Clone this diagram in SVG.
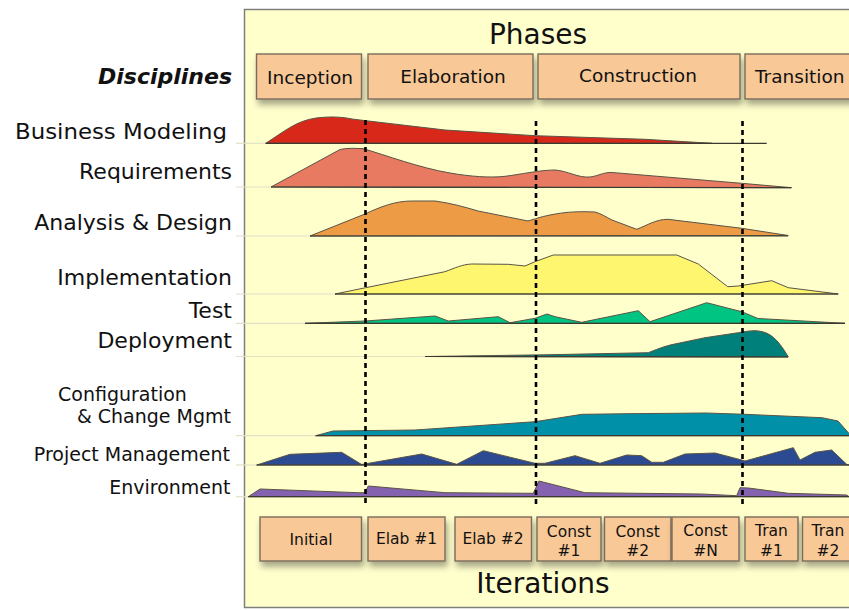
<svg xmlns="http://www.w3.org/2000/svg" width="849" height="610" viewBox="0 0 849 610">
<style>
  text { font-family: "DejaVu Sans", Verdana, sans-serif; fill: #111; }
  .disc { font-size: 22px; text-anchor: end; }
  .disc2 { font-size: 19px; text-anchor: end; }
  .title { font-size: 28px; text-anchor: middle; }
  .phl { font-size: 18.5px; text-anchor: middle; }
  .itl { font-size: 15.5px; text-anchor: middle; }
  .box { fill: #F8C896; stroke: #7A6C5C; stroke-width: 1.4; filter: url(#sh); }
  .hump { stroke: #5A5446; stroke-width: 1; stroke-linejoin: round; }
  .base { stroke: #3A3A30; stroke-width: 1.2; }
  .faint { stroke: #E4E0C6; stroke-width: 1.2; }
  .mile { stroke: #000; stroke-width: 2.6; stroke-dasharray: 5 4; fill: none; }
</style>
<defs>
  <filter id="sh" x="-10%" y="-20%" width="130%" height="160%">
    <feDropShadow dx="2" dy="5" stdDeviation="3" flood-color="#000" flood-opacity="0.35"/>
  </filter>
</defs>
<rect width="849" height="610" fill="#FFFFFF"/>
<rect id="panel" x="244.5" y="9.5" width="620" height="598" fill="#FFFFCC" stroke="#7F7F7F" stroke-width="1.5"/>
<text class="title" x="538" y="43.5">Phases</text>
<text class="title" x="543" y="593">Iterations</text>
<text id="disciplines" x="232" y="83.5" style="font-size:22px;font-weight:bold;font-style:italic;text-anchor:end">Disciplines</text>

<g id="phases">
  <g id="phase-inception"><rect class="box" x="256.5" y="54" width="105" height="45"/><text class="phl" x="310" y="84">Inception</text></g>
  <g id="phase-elaboration"><rect class="box" x="368" y="54" width="165" height="45"/><text class="phl" x="453" y="83">Elaboration</text></g>
  <g id="phase-construction"><rect class="box" x="538" y="54" width="202" height="45"/><text class="phl" x="638" y="82">Construction</text></g>
  <g id="phase-transition"><rect class="box" x="745" y="54" width="115" height="45"/><text class="phl" x="755" y="83" style="text-anchor:start">Transition</text></g>
</g>

<g id="discipline-business-modeling">
  <text class="disc" x="227" y="139.3" textLength="212" lengthAdjust="spacingAndGlyphs">Business Modeling</text>
  <line class="faint" x1="236" y1="143.3" x2="266" y2="143.3"/>
  <path class="hump" fill="#D8281A" d="M265.7,143.3 C285,131 296,121 316,118 C330,116.3 342,116.8 352,119 L365.7,120.7 L445,130 L535,135.7 L645,139.3 L712,143.3 Z"/>
  <line class="base" x1="265.7" y1="143.3" x2="766.7" y2="143.3"/>
</g>
<g id="discipline-requirements">
  <text class="disc" x="232" y="179.3">Requirements</text>
  <line class="faint" x1="236" y1="187" x2="271" y2="187"/>
  <path class="hump" fill="#E87A62" d="M271,187 L340,149.5 Q345,148.3 352,148.3 L363,148.6 C385,155 420,168 450,173 C470,176.5 490,178 505,176.3 C520,174.5 540,170 555,170 C568,171 578,178 590,177 C598,176 604,172 612,172.5 L741.7,183.3 L791.7,187.7 Z"/>
  <line class="base" x1="271" y1="187" x2="791" y2="187.6"/>
</g>
<g id="discipline-analysis-design">
  <text class="disc" x="232" y="230">Analysis &amp; Design</text>
  <line class="faint" x1="236" y1="236" x2="310" y2="236"/>
  <path class="hump" fill="#EE9B46" d="M310,236 L365,214 C380,207 395,201 411.7,201 L435,201 C450,203 465,207 478,211 L528,221 C535,219 540,217 550,215 C565,212 575,211.7 585,211.7 L595,212 C602,214 606,217 612,220 L636.7,229.3 C648,225 656,219.3 668,219.3 L741.7,228.3 L788.3,235.5 Z"/>
  <line class="base" x1="310" y1="236" x2="788" y2="236"/>
</g>
<g id="discipline-implementation">
  <text class="disc" x="232" y="285">Implementation</text>
  <line class="faint" x1="236" y1="294" x2="335" y2="294"/>
  <path class="hump" fill="#FFF670" d="M335,294 L365.7,287.7 L445,271.7 C455,268 462,264.5 471.7,264 L508.3,264.3 L525,266 L535,261.7 L553.3,255 L676.7,255 L698.3,264 L727.7,286.7 L738.3,286 L771.7,280.7 L788.3,287.7 L838.3,294 Z"/>
  <line class="base" x1="335" y1="294" x2="838" y2="294"/>
</g>
<g id="discipline-test">
  <text class="disc" x="232" y="318.3">Test</text>
  <line class="faint" x1="236" y1="323.3" x2="305" y2="323.3"/>
  <path class="hump" fill="#00C482" d="M305,323.3 L365,321 L435,316 L448.3,321 L498.3,316.7 L510,322.7 L535,318.3 L547,314 L555,316.7 L581.7,322.3 L638.3,310.7 L650,321.7 L706.7,302.7 L741.7,311.7 L758,318.5 L845,323.3 Z"/>
  <line class="base" x1="305" y1="323.3" x2="845" y2="323.3"/>
</g>
<g id="discipline-deployment">
  <text class="disc" x="232" y="348.3">Deployment</text>
  <line class="faint" x1="236" y1="356.5" x2="425" y2="356.5"/>
  <path class="hump" fill="#00807A" d="M425,356.5 L545,354.8 L648.3,352.7 C660,348 668,345 678.3,343.3 L705,337.7 L738.3,332.7 C745,331.5 750,330.7 755,330.7 C765,331 772,335 778,342 C783,348 786,353 788.3,357 Z"/>
  <line class="base" x1="425" y1="356.5" x2="788" y2="357"/>
</g>
<g id="discipline-configuration">
  <text x="58" y="400.7" style="font-size:19px">Configuration</text>
  <text class="disc2" x="231" y="423.3">&amp; Change Mgmt</text>
  <line class="faint" x1="236" y1="435.7" x2="316" y2="435.7"/>
  <path class="hump" fill="#0091A8" d="M315.7,435.7 L333,431 L415,430 L535,421.7 L582,414.3 L628,413.7 L706,413 L745,414.3 L822,417.7 L838,421 L851,435.7 Z"/>
  <line class="base" x1="315.7" y1="435.7" x2="849" y2="435.7"/>
</g>
<g id="discipline-project-management">
  <text class="disc2" x="230" y="460.7">Project Management</text>
  <line class="faint" x1="236" y1="465" x2="257" y2="465"/>
  <path class="hump" fill="#2B4A91" d="M256.7,465 L290,454.3 L341.7,452.3 L361.7,464.5 L421.7,454 L456.7,464.3 L483.3,450.7 L535,463.3 L545,463.3 L575,455.7 L600,463.3 L626.7,455 L641.7,455.7 L651.7,462.3 L663.3,462.3 L685,454 L715,453 L741.7,460 L745,461 L793.3,447.7 L800,460 L815,452.3 L831.7,450 L846.7,464.3 L849,465 Z"/>
  <line class="base" x1="256.7" y1="465" x2="849" y2="465"/>
</g>
<g id="discipline-environment">
  <text class="disc2" x="230.5" y="494">Environment</text>
  <line class="faint" x1="236" y1="496.7" x2="248" y2="496.7"/>
  <path class="hump" fill="#8462B0" d="M248.3,496.7 L260,489 L358.3,492.7 L365,492.7 L368.3,486 L445,492.7 L533.3,493.3 L539,481 L585,492.7 L701.7,494 L736.7,495.7 L740,487.7 L748.3,488 L788.3,493.3 L846.7,495 L849,496.7 Z"/>
  <line class="base" x1="248.3" y1="496.7" x2="849" y2="496.7"/>
</g>

<g id="iterations">
  <g id="it-initial"><rect class="box" x="260" y="517" width="101.5" height="44"/><text class="itl" x="311" y="545">Initial</text></g>
  <g id="it-elab1"><rect class="box" x="368" y="517" width="77" height="44"/><text class="itl" x="406.5" y="544">Elab #1</text></g>
  <g id="it-elab2"><rect class="box" x="455" y="517" width="76.5" height="44"/><text class="itl" x="493" y="544">Elab #2</text></g>
  <g id="it-const1"><rect class="box" x="537" y="517" width="64" height="44"/><text class="itl" x="569" y="536.5">Const</text><text class="itl" x="569" y="556">#1</text></g>
  <g id="it-const2"><rect class="box" x="604.5" y="517" width="66.5" height="44"/><text class="itl" x="637.7" y="536.5">Const</text><text class="itl" x="637.7" y="556">#2</text></g>
  <g id="it-constN"><rect class="box" x="672" y="517" width="67" height="44"/><text class="itl" x="705.5" y="536">Const</text><text class="itl" x="705.5" y="555.5">#N</text></g>
  <g id="it-tran1"><rect class="box" x="745" y="517" width="53" height="44"/><text class="itl" x="771.5" y="536">Tran</text><text class="itl" x="771.5" y="555.5">#1</text></g>
  <g id="it-tran2"><rect class="box" x="802.5" y="517" width="55" height="44"/><text class="itl" x="828" y="536">Tran</text><text class="itl" x="828" y="555.5">#2</text></g>
</g>

<g id="connectors">
  <line class="mile" x1="365.5" y1="120" x2="365.5" y2="506"/>
  <line class="mile" x1="536" y1="121" x2="536" y2="506"/>
  <line class="mile" x1="742.5" y1="121" x2="742.5" y2="506"/>
</g>
</svg>
